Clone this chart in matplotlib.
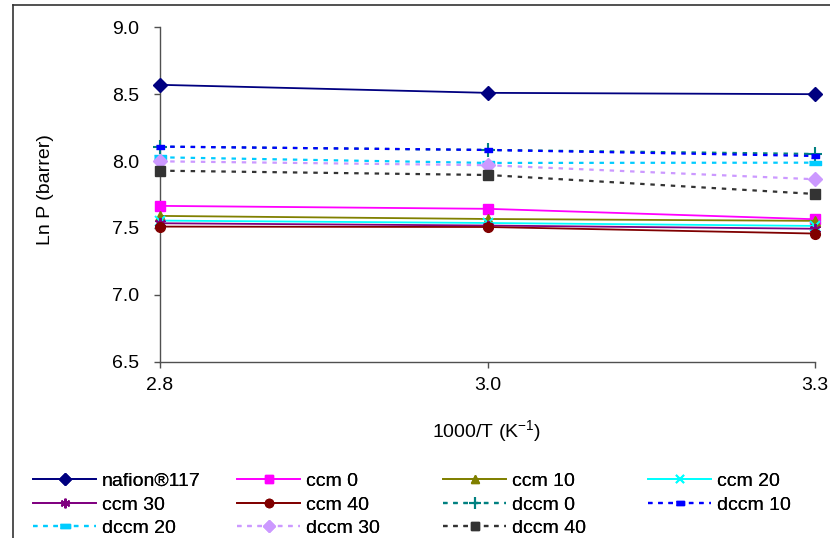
import matplotlib
matplotlib.use("Agg")
import matplotlib.pyplot as plt
from matplotlib.lines import Line2D

plt.rcParams['font.family'] = ['Liberation Sans', 'DejaVu Sans']
plt.rcParams['mathtext.default'] = 'regular'

# x categories: 1000/T (K^-1)
temps = ["2.8", "3.0", "3.3"]

nafion117 = [8.57, 8.51, 8.50]
ccm0 = [7.665, 7.643, 7.565]
ccm10 = [7.59, 7.567, 7.553]
ccm20 = [7.555, 7.537, 7.515]
ccm30 = [7.535, 7.518, 7.494]
ccm40 = [7.51, 7.507, 7.458]
dccm0 = [8.108, 8.083, 8.053]
dccm10 = [8.108, 8.083, 8.038]
dccm20 = [8.028, 7.986, 7.988]
dccm30 = [7.998, 7.969, 7.864]
dccm40 = [7.928, 7.896, 7.754]

W, H = 830, 538
FS = 14
fig = plt.figure(figsize=(W / 100, H / 100), dpi=100)
ax = fig.add_axes([160 / W, 1 - 361.7 / H, (815 - 160) / W, (361.7 - 27.3) / H])

x = list(range(len(temps)))
bar_big = [(-1, -0.35), (1, -0.35), (1, 0.35), (-1, 0.35)]
bar_small = [(-1, -0.45), (1, -0.45), (1, 0.45), (-1, 0.45)]

solid = dict(ls='-', lw=1.3)
dashed = dict(ls=(0, (2.0, 2.6)), lw=1.6)

series = [
    ("nafion®117", nafion117, dict(color='#000080', marker='D', ms=7, **solid)),
    ("ccm 0", ccm0, dict(color='#FF00FF', marker='s', ms=7, **solid)),
    ("ccm 10", ccm10, dict(color='#808000', marker='^', ms=7, **solid)),
    ("ccm 20", ccm20, dict(color='#00FFFF', marker='x', ms=7, mew=1.4, **solid)),
    ("ccm 30", ccm30, dict(color='#800080', marker=(6, 2, 0), ms=8, mew=1.4, **solid)),
    ("ccm 40", ccm40, dict(color='#800000', marker='o', ms=7, **solid)),
    ("dccm 0", dccm0, dict(color='#008080', marker='+', ms=10, mew=1.5, **dashed)),
    ("dccm 10", dccm10, dict(color='#0000FF', marker=bar_small, ms=6, **dashed)),
    ("dccm 20", dccm20, dict(color='#00CCFF', marker=bar_big, ms=9, **dashed)),
    ("dccm 30", dccm30, dict(color='#CC99FF', marker='D', ms=7.5, **dashed)),
    ("dccm 40", dccm40, dict(color='#333333', marker='s', ms=7, **dashed)),
]

handles = []
for label, vals, style in series:
    h, = ax.plot(x, vals, label=label, clip_on=False, zorder=3, **style)
    handles.append(h)

ax.set_xlim(0, len(temps) - 1)
ax.set_ylim(6.5, 9.0)
ax.set_xticks(x)
ax.set_xticklabels(temps)
ax.set_yticks([6.5, 7.0, 7.5, 8.0, 8.5, 9.0])
ax.set_yticklabels(["6.5", "7.0", "7.5", "8.0", "8.5", "9.0"])

for side in ('top', 'right'):
    ax.spines[side].set_visible(False)
for side in ('left', 'bottom'):
    ax.spines[side].set_color('#505050')
    ax.spines[side].set_linewidth(1.0)
ax.tick_params(axis='y', direction='out', length=4, width=1, color='#505050',
               labelsize=FS, pad=11)
ax.tick_params(axis='x', direction='out', length=4, width=1, color='#505050',
               labelsize=FS, pad=7)
ax.patch.set_visible(False)

fig.text(45 / W, 1 - 190 / H, "Ln P (barrer)", rotation=90, ha='center', va='center',
         fontsize=FS)
fig.text(487 / W, 1 - 431 / H, "1000/T (K$^{-1}$)", ha='center', va='center',
         fontsize=FS)

# legend: four fixed-width columns, entries laid out row by row
col_x = [33, 237, 443, 648]
ncols = 4
for c in range(ncols):
    idx = list(range(c, len(handles), ncols))
    leg = fig.legend([handles[i] for i in idx], [series[i][0] for i in idx],
                     loc='upper left', bbox_to_anchor=(col_x[c] / W, 1 - 472.5 / H),
                     frameon=False, fontsize=FS, handlelength=3.25,
                     handletextpad=0.3, borderpad=0, borderaxespad=0,
                     labelspacing=0.3, numpoints=1, markerscale=0.85)
    fig.add_artist(leg)

# outer frame of the chart area
fig.add_artist(Line2D([12.7 / W, 12.7 / W], [0, 1 - 5 / H], transform=fig.transFigure,
                      color='#333333', lw=1.2))
fig.add_artist(Line2D([12.7 / W, 1], [1 - 5 / H, 1 - 5 / H], transform=fig.transFigure,
                      color='#333333', lw=1.2))

fig.savefig("out.png", dpi=100)
